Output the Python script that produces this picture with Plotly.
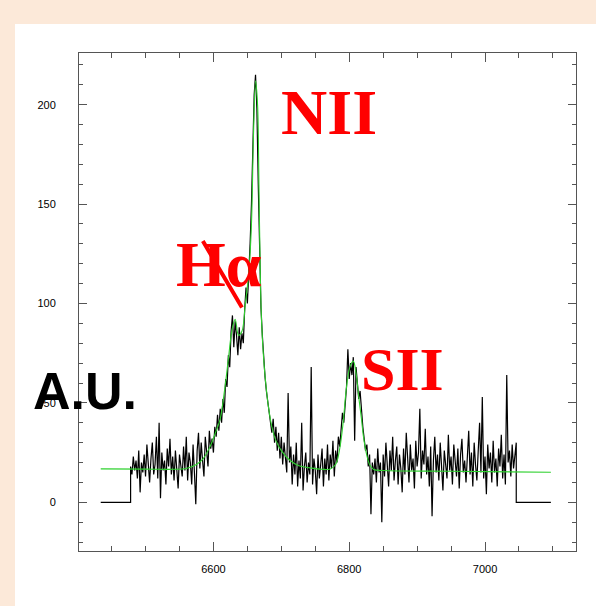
import numpy as np
import plotly.graph_objects as go

# ---------------- data ----------------
# observed spectrum: regular wavelength grid (start, step) and flux values (A.U.)
SPEC_START = 6478
SPEC_STEP = 2
flux_blue = [18, 14, 23, 16, 21, 12, 26, 5, 20, 15,
             24, 13, 29, 17, 10, 22, 30, 14, 19, 33,
             12, 40, 2, 25, 16, 21, 9, 27, 18, 32,
             14, 23, 11, 26, 17, 7, 24, 19, 13, 28,
             16, 33, 11, 25, 20, 9, 29, 15, -1, 26,
             35, 17, 30, 21, 13, 33, 24, 18, 36, 27,
             32, 25]
flux_halpha_nii = [38, 33, 44, 36, 47, 40, 52, 45, 62, 58,
                   74, 68, 86, 94, 78, 91, 84, 74, 88, 77,
                   85, 80, 97, 108, 100, 112, 130, 150, 175, 205,
                   215, 198, 160, 120, 98, 84, 70, 63, 56, 50,
                   44, 40, 35]
flux_trough = [42, 30, 38, 26, 35, 22, 33, 19, 30, 24,
               15, 55, 20, 28, 9, 24, 14, 30, 8, 21,
               12, 40, 6, 18, 25, 10, 20, 14, 68, 9,
               22, 16, 4, 24, 12, 19, 27, 8, 22, 14,
               29, 11, 24, 17, 31, 13, 26, 20, 33, 28]
flux_sii = [38, 45, 40, 52, 58, 77, 62, 70, 64, 73,
            31, 68, 60, 52, 56, 44, 38, 32, 26, 29,
            18, 24, -6, 20, 14]
flux_red = [22, 10, 27, 15, 20, -10, 24, 13, 30, 18,
            8, 26, 16, 33, 11, 21, 28, 9, 24, 17,
            5, 27, 14, 35, 19, 10, 29, 16, 22, 7,
            31, 18, 25, 47, 12, 26, 19, 37, 14, 23,
            8, 28, -7, 21, 33, 15, 24, 11, 30, 17,
            6, 26, 20, 12, 34, 16, 23, 9, 29, 18,
            13, 27, 7, 24, 32, 15, 21, 10, 28, 36,
            14, 25, 8, 30, 19, 11, 26, 40, 15, 53,
            12, 23, 4, 29, 17, 25, 10, 31, 15, 22,
            8, 27, 18, 34, 12, 24, 9, 64, 20, 26,
            13, 29, 17, 24, 30]
# zero-level padding outside the observed range
pad_left_wave = [6434, 6478]
pad_right_wave = [7046, 7097]
pad_flux = [0, 0]

# fitted model (green)
model_wave = [6434, 6500, 6540, 6560, 6575, 6585, 6595, 6603, 6610, 6617, 6622, 6627, 6632,
              6637, 6642, 6647, 6652, 6656, 6659, 6662, 6665, 6667, 6669, 6671, 6674, 6677,
              6681, 6686, 6692, 6700, 6713, 6725, 6742, 6760, 6772, 6780, 6786, 6791, 6796,
              6801, 6806, 6810, 6814, 6818, 6821, 6825, 6830, 6836, 6850, 6950, 7097]
model_flux = [16.8, 16.7, 16.6, 17, 19, 22, 28, 35, 42, 58, 72, 86, 92,
              84, 86, 100, 115, 140, 185, 212, 200, 160, 115, 90, 72, 60,
              48, 38, 31, 26, 21, 18.5, 17.3, 16.6, 16.8, 19, 27, 40, 58,
              68, 71, 65, 53, 42, 33, 25, 19, 16.5, 16, 15.6, 15.1]

x_ticks = [6600, 6800, 7000]
y_ticks = [0, 50, 100, 150, 200]

# ---------------- build ----------------
flux = flux_blue + flux_halpha_nii + flux_trough + flux_sii + flux_red
wave = SPEC_START + SPEC_STEP * np.arange(len(flux))
black_x = pad_left_wave + list(wave) + pad_right_wave
black_y = pad_flux + flux + pad_flux

fig = go.Figure()
fig.add_trace(go.Scatter(x=black_x, y=black_y, mode="lines",
                         line=dict(color="black", width=1.2), hoverinfo="skip"))
fig.add_trace(go.Scatter(x=model_wave, y=model_flux, mode="lines",
                         line=dict(color="#2ed12e", width=1.1, shape="spline"), hoverinfo="skip"))

axis_common = dict(showgrid=False, zeroline=False, showline=True, mirror="allticks",
                   linecolor="#555555", linewidth=1, ticks="inside", tickcolor="#555555",
                   tickfont=dict(family="Liberation Sans, Arial", size=11, color="black"))

fig.update_xaxes(range=[6402, 7134], tickvals=x_ticks, ticklen=9,
                 minor=dict(dtick=50, tick0=6400, ticklen=5, ticks="inside", tickcolor="#555555"),
                 ticklabelstandoff=8, **axis_common)
fig.update_yaxes(range=[-24.5, 226], tickvals=y_ticks, ticklen=8,
                 minor=dict(dtick=10, tick0=0, ticklen=4, ticks="inside", tickcolor="#555555"),
                 ticklabelstandoff=20, **axis_common)

L, T, W, H = 79, 53, 497, 498


def px_to_paper(px, py):
    return (px - L) / W, (T + H - py) / H


# white panel on the peach page
x0, y1 = px_to_paper(15, 24)
x1, y0 = px_to_paper(596, 606)
fig.add_shape(type="rect", xref="paper", yref="paper", x0=x0, x1=x1, y0=y0, y1=y1,
              fillcolor="white", line=dict(width=0), layer="below")

serif = "Liberation Serif, Times New Roman, serif"
ann = [
    ("<b>NII</b>", 329, 112, serif, 64, "red"),
    ("<b>Hα</b>", 219, 264, serif, 64, "red"),
    ("<b>SII</b>", 402, 369, serif, 62, "red"),
    ("<b>A.U.</b>", 85, 391, "Liberation Sans, Arial", 52, "black"),
]
for t, px, py, fam, sz, col in ann:
    xp, yp = px_to_paper(px, py)
    fig.add_annotation(x=xp, y=yp, xref="paper", yref="paper", text=t, showarrow=False,
                       font=dict(family=fam, size=sz, color=col), xanchor="center", yanchor="middle")

# pointer line for H-alpha
fig.add_annotation(x=6642, y=98, xref="x", yref="y", text="", showarrow=True, arrowhead=0,
                   arrowwidth=4, arrowcolor="red", ax=-40, ay=-68, standoff=0, startstandoff=0)

fig.update_layout(width=596, height=606, margin=dict(l=L, r=596 - L - W, t=T, b=606 - T - H),
                  paper_bgcolor="#fce9d9", plot_bgcolor="white", showlegend=False)

fig.write_html("out.html", config={"displayModeBar": False},
               post_script="document.body.style.margin='0';document.body.style.background='#fce9d9';")
